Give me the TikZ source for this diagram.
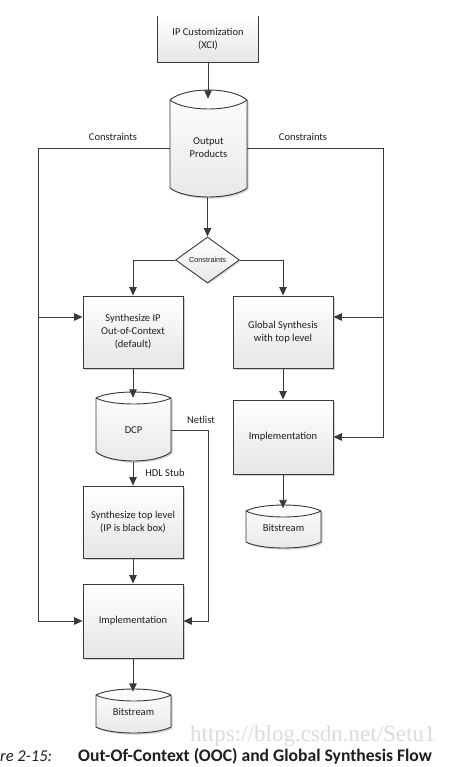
\documentclass[tikz,border=0pt]{standalone}
\usepackage{fontspec}
\setmainfont{Carlito}
\newfontfamily\arialf{Liberation Sans}
\newfontfamily\wmfont{Liberation Serif}
\usetikzlibrary{shapes.geometric,arrows.meta,shadows,calc}
\definecolor{linecol}{HTML}{3A3A3A}
\definecolor{txtcol}{HTML}{1E1E1E}
\newcommand{\drawcyl}[7]{%
  \filldraw[cylstyle] (#1,#4) .. controls ({#1+0.2*(#2-#1)},{#4+4/3*(#3-#4)}) and ({#2-0.2*(#2-#1)},{#4+4/3*(#3-#4)}) .. (#2,#4)
    -- (#2,#6) .. controls ({#2-0.2*(#2-#1)},{#6+4/3*(#7-#6)}) and ({#1+0.2*(#2-#1)},{#6+4/3*(#7-#6)}) .. (#1,#6) -- cycle;
  \draw[cylline] (#1,#4) .. controls ({#1+0.2*(#2-#1)},{#4+4/3*(#5-#4)}) and ({#2-0.2*(#2-#1)},{#4+4/3*(#5-#4)}) .. (#2,#4);
}
\begin{document}
\begin{tikzpicture}[x=1pt,y=-1pt,
  every node/.style={text=txtcol},
  lbl/.style={font=\fontsize{10.5}{13}\selectfont},
  procbox/.style={draw=linecol, line width=0.9pt, top color=white, bottom color=gray!20,
     minimum width=100pt, minimum height=72pt, align=center, inner sep=2pt, lbl,
     general shadow={shadow xshift=1.6pt, shadow yshift=-1.6pt, fill=gray!35}},
  cylstyle/.style={draw=linecol, line width=0.9pt, top color=white, bottom color=gray!18,
     general shadow={shadow xshift=1.6pt, shadow yshift=-1.6pt, fill=gray!35}},
  cylline/.style={draw=linecol, line width=0.9pt},
  cyllabel/.style={minimum width=75pt, inner sep=0pt, align=center, lbl},
  conn/.style={draw=linecol, line width=0.9pt},
  arr/.style={conn, -{Triangle[length=8.5pt,width=7.5pt]}},
  edgelbl/.style={lbl, inner sep=0pt}
]
\useasboundingbox[fill=white] (0,0) rectangle (470,767);

% IP Customization (top edge cropped)
\node[minimum width=100pt, minimum height=46pt, top color=white, bottom color=gray!20,
      align=center, inner sep=0pt, lbl] (ip) at (208,39) {IP Customization\\(XCI)};
\draw[conn] (ip.north west) -- (ip.south west) -- (ip.south east) -- (ip.north east);

% Output Products cylinder
\drawcyl{170}{247}{90}{100}{109}{188}{197}
\node[cyllabel, minimum width=77pt, minimum height=98pt] (op) at (208.5,148) {Output\\Products};

% Diamond
\node[diamond, draw=linecol, line width=0.9pt, top color=white, bottom color=gray!18,
      minimum width=64pt, minimum height=46pt, inner sep=0pt, aspect=1.4,
      font=\arialf\fontsize{7.3}{8}\selectfont,
      general shadow={shadow xshift=1.4pt, shadow yshift=-1.4pt, fill=gray!30}] (dia) at (207.5,260) {Constraints};

% Process boxes
\node[procbox] (sip) at (133,332) {Synthesize IP\\Out-of-Context\\(default)};
\node[procbox] (gs) at (283,332) {Global Synthesis\\with top level};
\node[procbox] (stl) at (133,522) {Synthesize top level\\(IP is black box)};
\node[procbox, minimum height=74pt] (im1) at (133,621) {Implementation};
\node[procbox, minimum height=74pt] (im2) at (283,437) {Implementation};

% DCP and Bitstreams
\drawcyl{96}{171}{392}{398}{404}{452}{461}
\node[cyllabel, minimum height=64pt] (dcp) at (133.5,430) {DCP};
\drawcyl{96}{171}{689}{695}{701}{727}{733}
\node[cyllabel, minimum height=40pt] (bs1) at (133.5,712) {Bitstream};
\drawcyl{246}{321}{505}{511}{517}{542}{548}
\node[cyllabel, minimum height=39pt] (bs2) at (283.5,528) {Bitstream};

% Helper coordinates
\coordinate (lc) at (38,148);
\coordinate (rc) at (383,148);
\coordinate (lvl) at (0,317);
\coordinate (nlx) at (208,0);

% Connectors
\draw[arr] (ip.south) -- (ip.south |- op.north);
\draw[arr] (op.south -| dia.north) -- (dia.north);
\draw[arr] (dia.west) -| (sip.north);
\draw[arr] (dia.east) -| (gs.north);
\draw[arr] (op.west) -- (lc) |- (im1.west);
\draw[arr] (lc |- lvl) -- (sip.west |- lvl);
\draw[arr] (op.east) -- (rc) |- (im2.east);
\draw[arr] (rc |- lvl) -- (gs.east |- lvl);
\draw[arr] (sip.south) -- (sip.south |- dcp.north);
\draw[arr] (sip.south |- dcp.south) -- (stl.north);
\draw[arr] (dcp.east) -- (dcp.east -| nlx) |- (im1.east);
\draw[arr] (stl.south) -- (im1.north);
\draw[arr] (im1.south) -- (im1.south |- bs1.north);
\draw[arr] (gs.south) -- (im2.north);
\draw[arr] (im2.south) -- (im2.south |- bs2.north);

% Edge labels
\node[edgelbl] (lblcl) at (113,137) {Constraints};
\node[edgelbl] (lblcr) at (303,137) {Constraints};
\node[edgelbl] (lblnl) at (201,420) {Netlist};
\node[edgelbl] (lblhdl) at (165,473) {HDL Stub};

% Watermark and caption
\node[anchor=base west, inner sep=0pt, text=gray!28, font=\wmfont\fontsize{23}{25}\selectfont] (wm) at (190,741) {https://blog.csdn.net/Setu1};
\node[anchor=base west, inner sep=0pt, font=\itshape\fontsize{16.5}{18}\selectfont] (capnum) at (0,761) {re 2-15:};
\node[anchor=base west, inner sep=0pt, font=\bfseries\fontsize{17.6}{19}\selectfont] (cap) at (78,761) {Out-Of-Context (OOC) and Global Synthesis Flow};
\end{tikzpicture}
\end{document}
